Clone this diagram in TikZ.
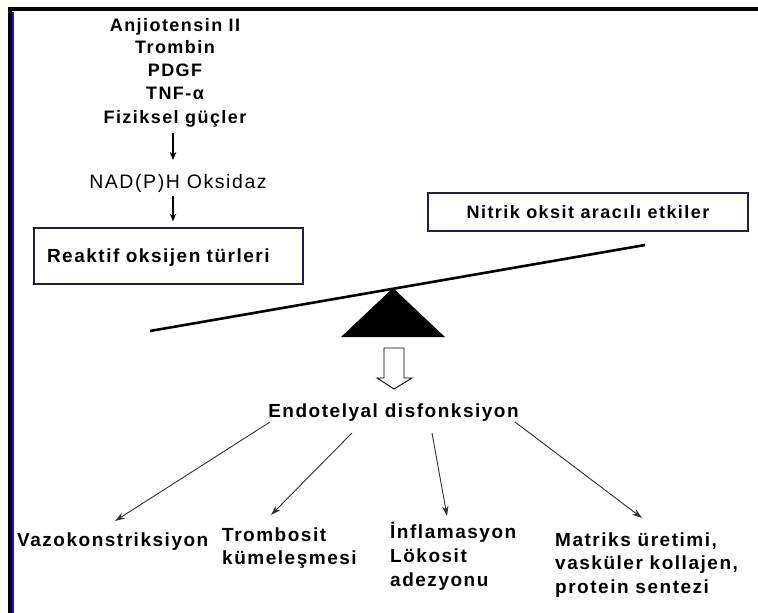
\documentclass[tikz,border=0pt]{standalone}
\usepackage{fontspec}
\setmainfont{Liberation Sans}[LetterSpace=8]
\usetikzlibrary{arrows.meta,calc}
\definecolor{boxline}{RGB}{28,28,78}
\definecolor{arrowgray}{RGB}{50,50,50}
\definecolor{edgeblue}{RGB}{20,20,230}
\begin{document}
\begin{tikzpicture}[x=1pt,y=-1pt,
  bigbold/.style={font=\fontsize{19}{23}\selectfont\bfseries, inner sep=0pt, anchor=base},
  topbold/.style={font=\fontsize{18}{22}\selectfont\bfseries, inner sep=0pt, anchor=base},
  plainlbl/.style={font=\fontsize{19.5}{23}\selectfont, inner sep=0pt, anchor=base},
  leftlbl/.style={font=\fontsize{19}{23}\selectfont\bfseries, inner sep=0pt, anchor=base west},
  framedbox/.style={draw=boxline, line width=1.1pt, inner sep=0pt, text height=14pt, text depth=1pt},
  downarrow/.style={line width=1.3pt, -{Stealth[length=8pt,width=6.5pt]}},
  fanarrow/.style={draw=arrowgray, line width=0.9pt, -{Stealth[length=10pt,width=6.5pt]}},
]
\useasboundingbox (0,0) rectangle (758,613);
\fill[white] (0,0) rectangle (758,613);
% frame
\draw[line width=4.5pt] (8,9) -- (758,9);
\draw[line width=3.5pt] (10,7) -- (10,613);
\draw[edgeblue, line width=2pt] (13,11.5) -- (13,613);

% stimuli list
\node[topbold] (ang)  at (175,31)  {Anjiotensin II};
\node[topbold] (tro)  at (175,53)  {Trombin};
\node[topbold] (pdgf) at (175,76)  {PDGF};
\node[topbold] (tnf)  at (175,99)  {TNF-α};
\node[topbold] (fiz)  at (175,123) {Fiziksel güçler};
\node[plainlbl] (nad) at (178,188.5) {NAD(P)H Oksidaz};

% boxes
\node[framedbox, font=\fontsize{19}{23}\selectfont\bfseries,
      minimum height=56pt, text width=243pt, inner xsep=13pt, align=left]
      (ros) at (168.5,256) {Reaktif oksijen türleri};
\node[framedbox, font=\fontsize{18}{22}\selectfont\bfseries,
      minimum width=320pt, minimum height=38pt]
      (nox) at (588,212) {Nitrik oksit aracılı etkiler};

% vertical arrows
\draw[downarrow] ($(fiz.base)+(-2,10)$) -- ($(nad.base)+(-5,-28.5)$);
\draw[downarrow] ($(nad.base)+(-5,7.5)$) -- ($(ros.north)+(4.5,-6)$);

% balance
\coordinate (beamL) at (150,331);
\coordinate (beamR) at (645,245);
\fill (393,288) -- (445,337) -- (341,337) -- cycle;
\draw[line width=2.6pt] (beamL) -- (beamR);

% hollow arrow
\draw[line width=0.9pt, fill=white]
  (384,348) -- (404,348) -- (404,378) -- (412,378) -- (394,389)
  -- (377,378) -- (384,378) -- cycle;

% endothelial dysfunction
\node[bigbold] (endo) at (393.5,417) {Endotelyal disfonksiyon};

% outcomes
\node[leftlbl] (vazo) at (17,546.5) {Vazokonstriksiyon};
\node[leftlbl] (trom) at (222,541.5) {Trombosit};
\node[leftlbl] (kume) at (222,564.5) {kümeleşmesi};
\node[leftlbl] (infl) at (390,538.5) {İnflamasyon};
\node[leftlbl] (loko) at (390,562.5) {Lökosit};
\node[leftlbl] (adez) at (390,586.5) {adezyonu};
\node[leftlbl] (matr) at (555,546.5) {Matriks üretimi,};
\node[leftlbl] (vask) at (555,569.5) {vasküler kollajen,};
\node[leftlbl] (prot) at (555,593.5) {protein sentezi};

% fan arrows
\draw[fanarrow] ($(endo.base)+(-123.5,5)$) -- ($(vazo.base west)+(98,-25.5)$);
\draw[fanarrow] ($(endo.base)+(-41.5,16)$) -- ($(trom.base west)+(49,-26.5)$);
\draw[fanarrow] ($(endo.base)+(38.5,16)$) -- ($(infl.base west)+(57,-22.5)$);
\draw[fanarrow] ($(endo.base)+(121.5,5)$) -- ($(matr.base west)+(87,-28.5)$);
\end{tikzpicture}
\end{document}
